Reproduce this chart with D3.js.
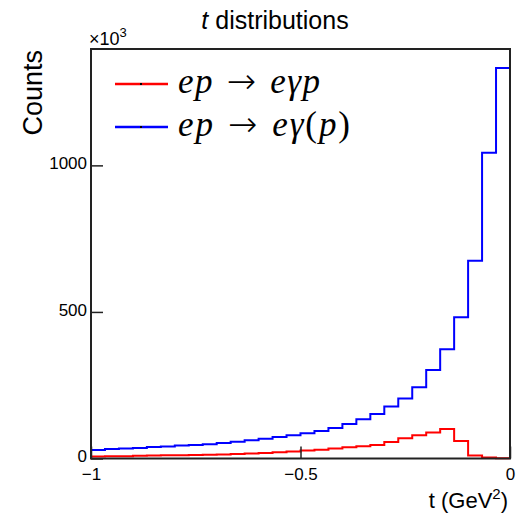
<!DOCTYPE html>
<html>
<head>
<meta charset="utf-8">
<script src="https://cdnjs.cloudflare.com/ajax/libs/d3/7.8.5/d3.min.js"></script>
<style>
  body { margin: 0; background: #fff; }
  text { font-family: "Liberation Sans", Arial, sans-serif; fill: #000; }
  .axis text { font-size: 17px; }
  .axis line { stroke: #222; stroke-width: 1.5; }
  .axis path { display: none; }
  .math { font-family: "Liberation Serif", "Times New Roman", serif; font-style: italic; }
</style>
</head>
<body>
<div id="chart"></div>
<script>
// bin edges of t (GeV^2), 30 bins from -1 to 0
var tMin = -1, tMax = 0, nBins = 30;

// counts per bin (x10^3)
var countsFull = [29, 32, 34, 36, 39, 41, 44, 46, 49, 53, 57, 62, 67, 73, 79, 86, 94, 104, 118, 134, 152, 177, 205, 243, 302, 373, 482, 675, 1043, 1332];
var countsMiss = [7, 8, 8, 9, 10, 11, 11, 12, 13, 14, 15, 17, 19, 21, 24, 27, 30, 34, 38, 42, 46, 56, 69, 79, 89, 101, 60, 10, 3, 1];

var xTicks = [-1, -0.5, 0];
var yTicks = [0, 500, 1000];
var yMax = 1397;

var series = [
  { name: ["ep", " \u2192 ", "e\u03b3p"], color: "#ff0000", values: countsMiss },
  { name: ["ep", " \u2192 ", "e\u03b3", "(", "p", ")"], color: "#0000ff", values: countsFull }
];

// margin convention
var margin = {top: 49, right: 16, bottom: 61.5, left: 91}
  , width = 526 - margin.left - margin.right
  , height = 520 - margin.top - margin.bottom;

var xScale = d3.scaleLinear()
  .domain([tMin, tMax])
  .range([0, width]);

var yScale = d3.scaleLinear()
  .domain([0, yMax])
  .range([height, 0]);

var binW = (tMax - tMin) / nBins;

// step outline of a histogram
function stepPoints(values) {
  var pts = [[tMin, 0]];
  values.forEach(function(v, i) {
    pts.push([tMin + i * binW, v]);
    pts.push([tMin + (i + 1) * binW, v]);
  });
  pts.push([tMax, 0]);
  return pts;
}

var line = d3.line()
  .x(function(d) { return xScale(d[0]); })
  .y(function(d) { return yScale(d[1]); });

var root = d3.select("#chart").append("svg")
  .attr("width", 526)
  .attr("height", 520);

var svg = root.append("g")
  .attr("transform", "translate(" + margin.left + "," + margin.top + ")");

// histograms
series.forEach(function(s) {
  svg.append("path")
    .datum(stepPoints(s.values))
    .attr("fill", "none")
    .attr("stroke", s.color)
    .attr("stroke-width", 2)
    .attr("d", line);
});

// axes, ticks pointing inward
svg.append("g")
  .attr("class", "x axis")
  .attr("transform", "translate(0," + height + ")")
  .call(d3.axisBottom(xScale).tickValues(xTicks).tickSize(-12).tickPadding(9)
    .tickFormat(function(d) { return d === 0 ? "0" : String(d).replace("-", "\u2212"); }));

svg.append("g")
  .attr("class", "y axis")
  .call(d3.axisLeft(yScale).tickValues(yTicks).tickSize(-12).tickPadding(4)
    .tickFormat(function(d) { return String(d); }))
  .selectAll("text")
  .attr("dy", "0.2em");

// frame
svg.append("rect")
  .attr("width", width)
  .attr("height", height)
  .attr("fill", "none")
  .attr("stroke", "#222")
  .attr("stroke-width", 2);

// title
var title = root.append("text")
  .attr("x", 275)
  .attr("y", 29)
  .attr("text-anchor", "middle")
  .attr("font-size", "25px");
title.append("tspan").attr("font-style", "italic").text("t");
title.append("tspan").text(" distributions");

// x10^3 multiplier
var mult = root.append("text")
  .attr("x", margin.left - 2)
  .attr("y", 45)
  .attr("font-size", "18px");
mult.append("tspan").text("\u00d710");
mult.append("tspan").attr("font-size", "13px").attr("dy", -8).text("3");

// axis titles
var xt = root.append("text")
  .attr("x", 508)
  .attr("y", 508)
  .attr("text-anchor", "end")
  .attr("font-size", "22px");
xt.append("tspan").text("t (GeV");
xt.append("tspan").attr("font-size", "15px").attr("dy", -9).text("2");
xt.append("tspan").attr("dy", 9).text(")");

root.append("text")
  .attr("transform", "translate(42,50) rotate(-90)")
  .attr("text-anchor", "end")
  .attr("font-size", "27px")
  .text("Counts");

// legend
var legY = [84, 127];
var legW = [142, 172];
series.forEach(function(s, i) {
  var g = root.append("g");
  g.append("line")
    .attr("x1", 115).attr("x2", 168)
    .attr("y1", legY[i]).attr("y2", legY[i])
    .attr("stroke", s.color)
    .attr("stroke-width", 2.5);
  g.append("rect")
    .attr("x", 140).attr("y", legY[i] - 1)
    .attr("width", 2).attr("height", 2)
    .attr("fill", "#000");
  var t = g.append("text")
    .attr("class", "math")
    .attr("x", 178)
    .attr("y", legY[i] + 9)
    .attr("font-size", "35px")
    .attr("textLength", legW[i])
    .attr("lengthAdjust", "spacing");
  s.name.forEach(function(part) {
    var arrow = part === " \u2192 ";
    var upright = arrow || part === "(" || part === ")";
    t.append("tspan")
      .attr("font-style", upright ? "normal" : "italic")
      .attr("font-family", arrow ? "DejaVu Sans" : null)
      .attr("font-weight", arrow ? "200" : null)
      .text(part);
  });
});
</script>
</body>
</html>
